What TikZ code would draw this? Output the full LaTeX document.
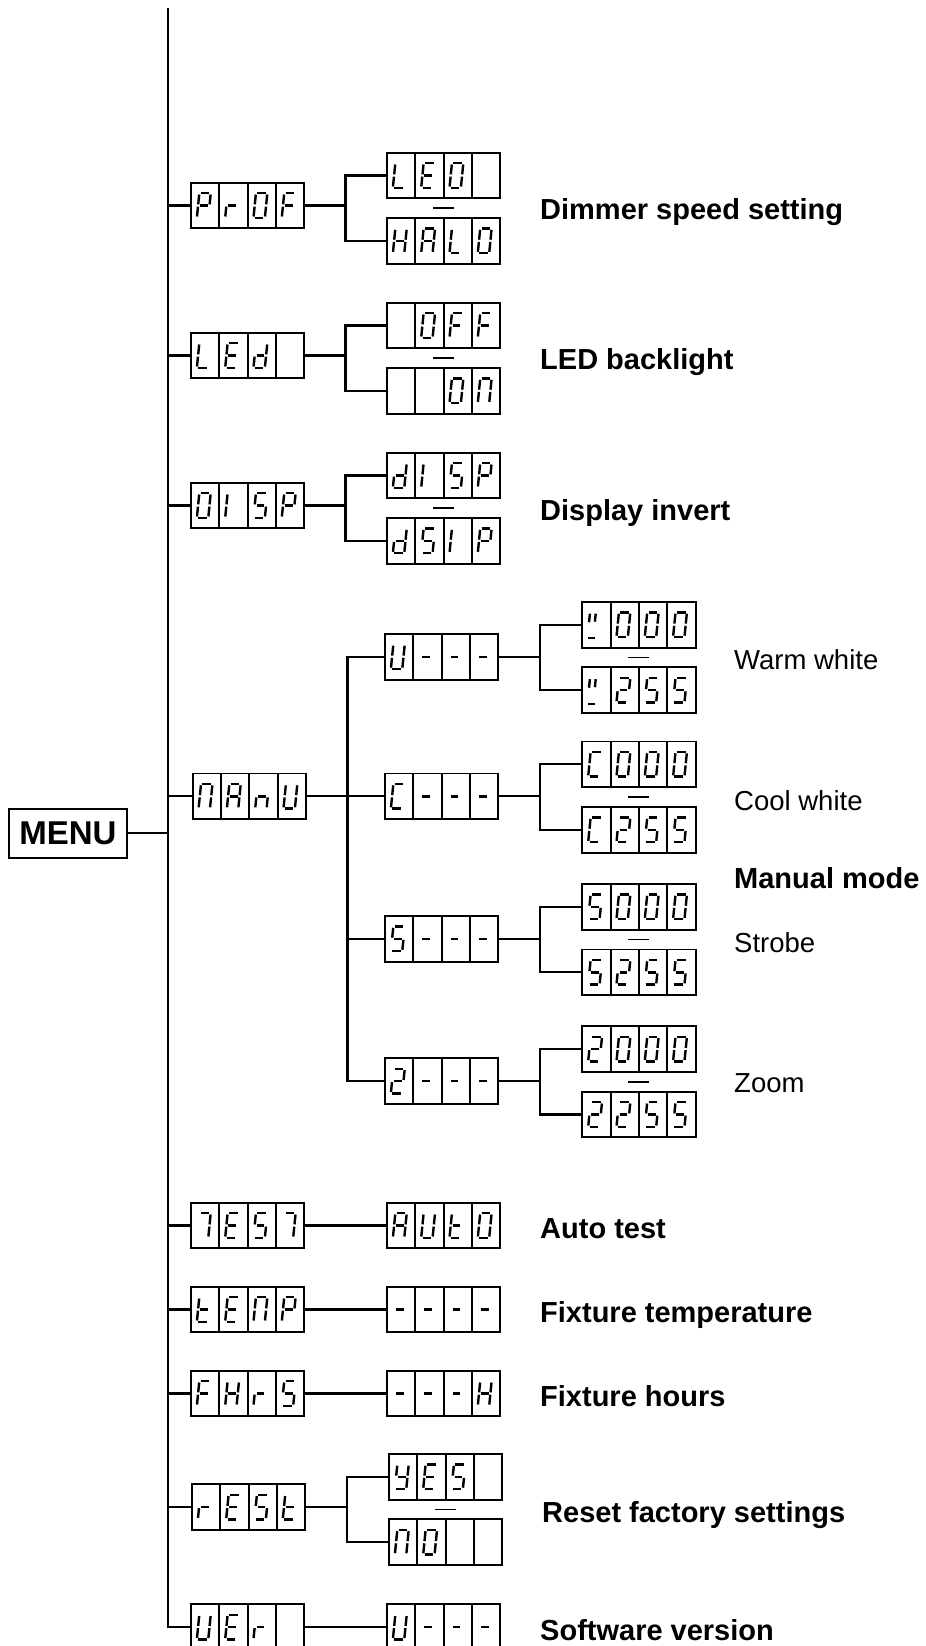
\documentclass[tikz,border=0pt]{standalone}
\usepackage{fontspec}
\setmainfont{Liberation Sans}
\usetikzlibrary{calc}
\tikzset{
  seg/.style={line width=2.4pt, line cap=butt},
  conn/.style={line width=2.1pt},
  dbox/.style={draw, line width=1.9pt, minimum width=113.3pt, minimum height=45.7pt, inner sep=0pt, outer sep=0pt},
  divider/.style={line width=1.8pt},
  boldlabel/.style={anchor=base west, inner sep=0pt, font=\fontsize{29}{34}\selectfont\bfseries},
  reglabel/.style={anchor=base west, inner sep=0pt, font=\fontsize{27.5}{32}\selectfont},
  menubox/.style={draw, line width=2.1pt, minimum width=117.4pt, minimum height=48.7pt, inner sep=0pt, outer sep=0pt, font=\fontsize{33}{36}\selectfont\bfseries},
  optdash/.style={line width=1.8pt},
}
% seven-segment pieces (local units, y downward)
\newcommand\segA{\draw[seg] (-4.3,-12.3) -- (4.3,-12.3);}
\newcommand\segB{\draw[seg] (5.7,-11) -- (5.7,-1.1);}
\newcommand\segC{\draw[seg] (5.7,1.1) -- (5.7,11);}
\newcommand\segD{\draw[seg] (-4.3,12.3) -- (4.3,12.3);}
\newcommand\segE{\draw[seg] (-5.7,1.1) -- (-5.7,11);}
\newcommand\segF{\draw[seg] (-5.7,-11) -- (-5.7,-1.1);}
\newcommand\segG{\draw[seg] (-3.8,0) -- (3.8,0);}
\newcommand\segW{\draw[seg] (-6.3,-11) -- (-6.3,-2.5); \draw[seg] (-0.5,-11) -- (-0.5,-3); \draw[seg] (-5.3,13.5) -- (1.5,13.5);}
\newcommand\segX{}
% glyphs
\newcommand\glP{A,B,E,F,G}
\newcommand\glr{E,G}
\newcommand\glO{A,B,C,D,E,F}
\newcommand\glF{A,E,F,G}
\newcommand\glL{D,E,F}
\newcommand\glE{A,D,E,F,G}
\newcommand\gld{B,C,D,E,G}
\newcommand\glX{X}
\newcommand\glI{E,F}
\newcommand\glS{A,C,D,F,G}
\newcommand\glM{A,B,C,E,F}
\newcommand\glA{A,B,C,E,F,G}
\newcommand\gln{C,E,G}
\newcommand\glU{B,C,D,E,F}
\newcommand\glH{B,C,E,F,G}
\newcommand\glSeven{A,B,C}
\newcommand\glt{D,E,F,G}
\newcommand\gly{B,C,D,F,G}
\newcommand\glDash{G}
\newcommand\glC{A,D,E,F}
\newcommand\glTwo{A,B,D,E,G}
\newcommand\glW{W}
\newcommand\glyph[3]{\begin{scope}[shift={(#1,#2)},xslant=0.1]\foreach \s in #3 {\csname seg\s\endcsname}\end{scope}}
\newcommand\dispbox[7]{%
  \node[dbox] (#1) at ({#2+56.65},#3) {};
  \foreach \i in {1,2,3} {\draw[divider] ($(#1.north west)!\i/4!(#1.north east)$) -- ($(#1.south west)!\i/4!(#1.south east)$);}
  \glyph{#2+12.8}{#3}{#4}\glyph{#2+41.1}{#3}{#5}\glyph{#2+69.4}{#3}{#6}\glyph{#2+97.7}{#3}{#7}%
}
\begin{document}
\begin{tikzpicture}[x=1pt,y=-1pt]
\path[use as bounding box] (0,0) rectangle (926,1646);
\clip (0,0) rectangle (926,1646);

% MENU
\node[menubox] (menu) at (68,833.3) {MENU};
\coordinate (top) at (168,8);

% level 1
\dispbox{p1}{191}{205.5}{\glP}{\glr}{\glO}{\glF}
\dispbox{p2}{191}{355.5}{\glL}{\glE}{\gld}{\glX}
\dispbox{p3}{191}{505.5}{\glO}{\glI}{\glS}{\glP}
\dispbox{p4}{192.7}{796.3}{\glM}{\glA}{\gln}{\glU}
\dispbox{p5}{191}{1225.5}{\glSeven}{\glE}{\glS}{\glSeven}
\dispbox{p6}{191}{1309.5}{\glt}{\glE}{\glM}{\glP}
\dispbox{p7}{191}{1393.5}{\glF}{\glH}{\glr}{\glS}
\dispbox{p8}{192}{1507}{\glr}{\glE}{\glS}{\glt}
\dispbox{p9}{191}{1627}{\glU}{\glE}{\glr}{\glX}

% options
\dispbox{o1a}{387}{175.5}{\glL}{\glE}{\glO}{\glX}
\dispbox{o1b}{387}{240.8}{\glH}{\glA}{\glL}{\glO}
\dispbox{o2a}{387}{325.5}{\glX}{\glO}{\glF}{\glF}
\dispbox{o2b}{387}{390.8}{\glX}{\glX}{\glO}{\glM}
\dispbox{o3a}{387}{475.5}{\gld}{\glI}{\glS}{\glP}
\dispbox{o3b}{387}{540.8}{\gld}{\glS}{\glI}{\glP}
\dispbox{o5}{387}{1225.5}{\glA}{\glU}{\glt}{\glO}
\dispbox{o6}{387}{1309.5}{\glDash}{\glDash}{\glDash}{\glDash}
\dispbox{o7}{387}{1393.5}{\glDash}{\glDash}{\glDash}{\glH}
\dispbox{o8a}{389}{1476.7}{\gly}{\glE}{\glS}{\glX}
\dispbox{o8b}{389}{1542.2}{\glM}{\glO}{\glX}{\glX}
\dispbox{o9}{387}{1627}{\glU}{\glDash}{\glDash}{\glDash}

% manual mode
\dispbox{m1}{385}{656.7}{\glU}{\glDash}{\glDash}{\glDash}
\dispbox{m2}{385}{796.3}{\glC}{\glDash}{\glDash}{\glDash}
\dispbox{m3}{385}{938.8}{\glS}{\glDash}{\glDash}{\glDash}
\dispbox{m4}{385}{1081}{\glTwo}{\glDash}{\glDash}{\glDash}
\dispbox{m1a}{582.3}{624.7}{\glW}{\glO}{\glO}{\glO}
\dispbox{m1b}{582.3}{690.2}{\glW}{\glTwo}{\glS}{\glS}
\dispbox{m2a}{582.3}{764.3}{\glC}{\glO}{\glO}{\glO}
\dispbox{m2b}{582.3}{829.8}{\glC}{\glTwo}{\glS}{\glS}
\dispbox{m3a}{582.3}{906.8}{\glS}{\glO}{\glO}{\glO}
\dispbox{m3b}{582.3}{972.3}{\glS}{\glTwo}{\glS}{\glS}
\dispbox{m4a}{582.3}{1049}{\glTwo}{\glO}{\glO}{\glO}
\dispbox{m4b}{582.3}{1114.5}{\glTwo}{\glTwo}{\glS}{\glS}

% dashes between alternatives
\foreach \a/\b in {o1a/o1b,o2a/o2b,o3a/o3b,o8a/o8b,m1a/m1b,m2a/m2b,m3a/m3b,m4a/m4b}
  {\draw[optdash] ($(\a.south)!.5!(\b.north)+(-10.5,0)$) -- ++(21,0);}

% main trunk
\draw[conn] (top) -- (top |- p9.west) -- (p9.west);
\foreach \n in {p1,p2,p3,p4,p5,p6,p7,p8} {\draw[conn] (top |- \n.west) -- (\n.west);}
\draw[conn] (menu.east) -- (top |- menu.east);

% two-way branches
\coordinate (j1) at (345.5,205.5);
\coordinate (j2) at (345.5,355.5);
\coordinate (j3) at (345.5,505.5);
\coordinate (j8) at (347,1507);
\draw[conn] (p1.east) -- (j1); \draw[conn] (o1a.west) -| (j1) |- (o1b.west);
\draw[conn] (p2.east) -- (j2); \draw[conn] (o2a.west) -| (j2) |- (o2b.west);
\draw[conn] (p3.east) -- (j3); \draw[conn] (o3a.west) -| (j3) |- (o3b.west);
\draw[conn] (p8.east) -- (j8); \draw[conn] (o8a.west) -| (j8) |- (o8b.west);

% single branches
\draw[conn] (p5.east) -- (o5.west);
\draw[conn] (p6.east) -- (o6.west);
\draw[conn] (p7.east) -- (o7.west);
\draw[conn] (p9.east) -- (o9.west);

% manual branches
\coordinate (mj) at (347.5,796.3);
\draw[conn] (p4.east) -- (m2.west);
\draw[conn] (m1.west) -| (mj) |- (m4.west);
\draw[conn] (mj |- m3.west) -- (m3.west);
\coordinate (k1) at (540.3,656.7);
\coordinate (k2) at (540.3,796.3);
\coordinate (k3) at (540.3,938.8);
\coordinate (k4) at (540.3,1081);
\draw[conn] (m1.east) -- (k1); \draw[conn] (m1a.west) -| (k1) |- (m1b.west);
\draw[conn] (m2.east) -- (k2); \draw[conn] (m2a.west) -| (k2) |- (m2b.west);
\draw[conn] (m3.east) -- (k3); \draw[conn] (m3a.west) -| (k3) |- (m3b.west);
\draw[conn] (m4.east) -- (k4); \draw[conn] (m4a.west) -| (k4) |- (m4b.west);

% labels
\node[boldlabel] (l1) at (540,219.4) {Dimmer speed setting};
\node[boldlabel] (l2) at (540,369.4) {LED backlight};
\node[boldlabel] (l3) at (540,520.4) {Display invert};
\node[boldlabel] (l5) at (540,1238.4) {Auto test};
\node[boldlabel] (l6) at (540,1322.4) {Fixture temperature};
\node[boldlabel] (l7) at (540,1406.4) {Fixture hours};
\node[boldlabel] (l8) at (542,1522.4) {Reset factory settings};
\node[boldlabel] (l9) at (540,1640.4) {Software version};
\node[boldlabel] (lm) at (734,888.4) {Manual mode};
\node[reglabel] (lw) at (734,669) {Warm white};
\node[reglabel] (lc) at (734,810) {Cool white};
\node[reglabel] (ls) at (734,952) {Strobe};
\node[reglabel] (lz) at (734,1092) {Zoom};
\end{tikzpicture}
\end{document}
